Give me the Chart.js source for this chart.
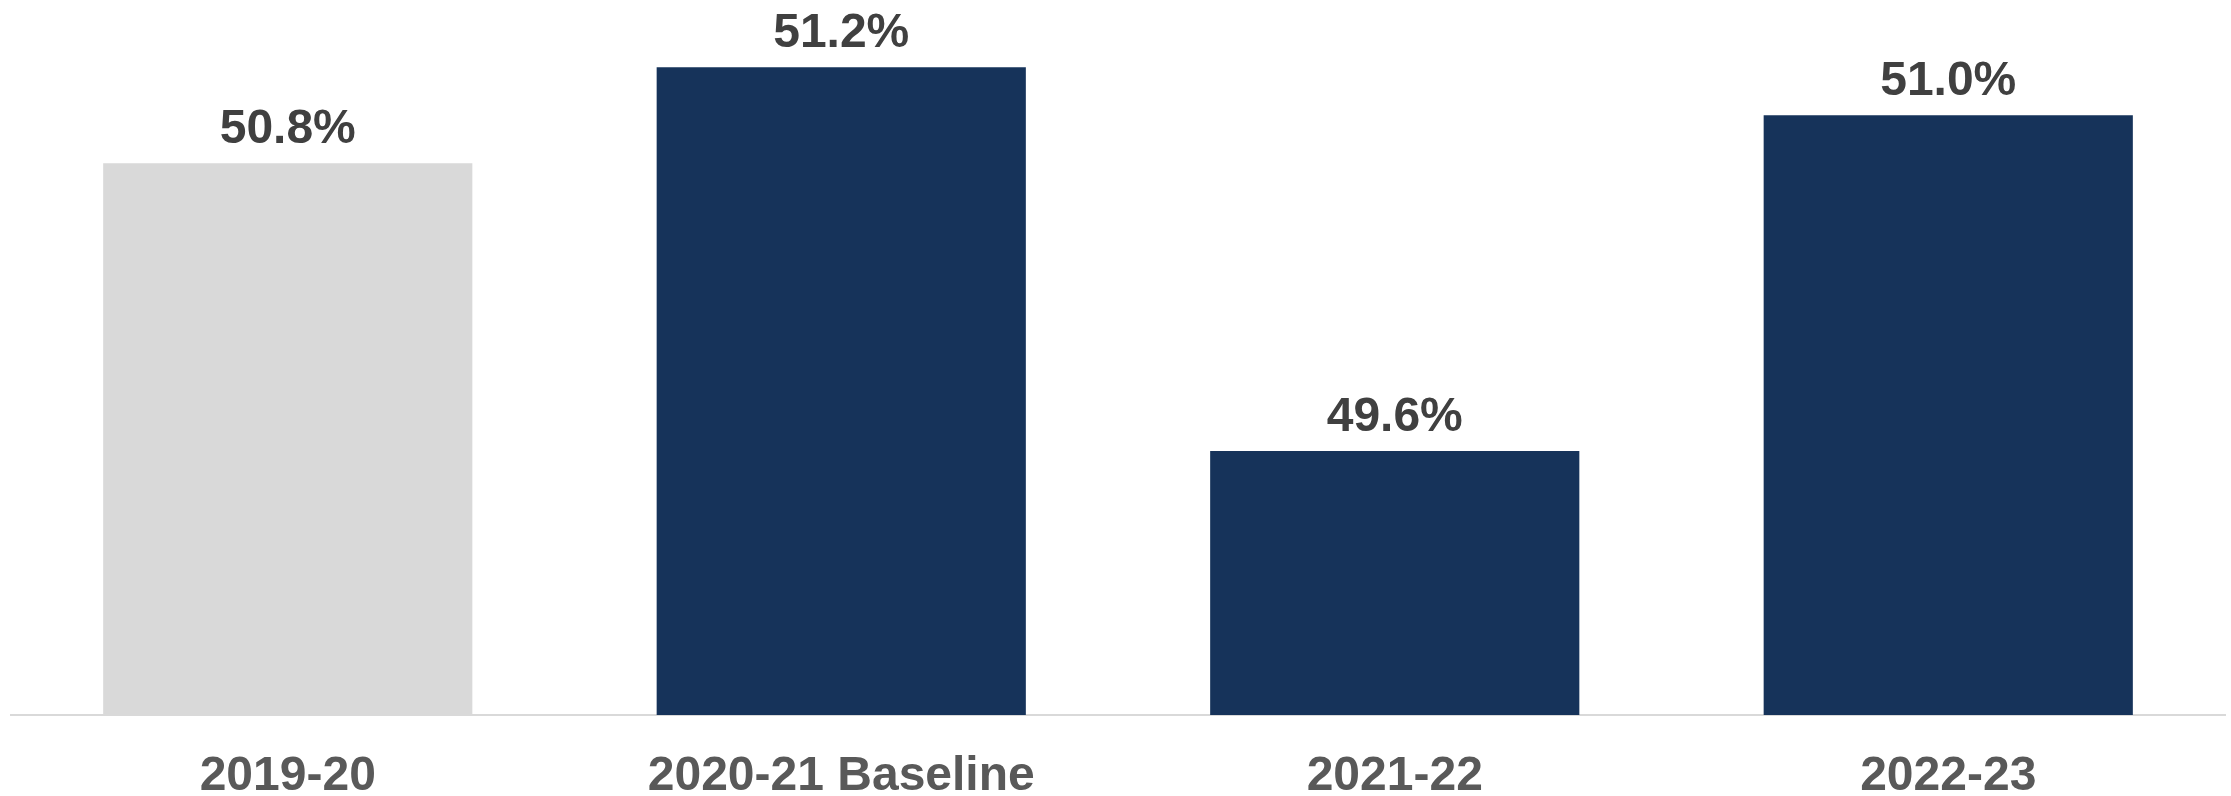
<!DOCTYPE html>
<html>
<head>
<meta charset="utf-8">
<script src="https://cdn.jsdelivr.net/npm/chart.js@4"></script>
<style>
  html, body { margin: 0; padding: 0; background: #fff; }
  #wrap { width: 2231px; height: 796px; }
</style>
</head>
<body>
<div id="wrap"><canvas id="chart"></canvas></div>
<script>
// Chart data
const categories = ['2019-20', '2020-21 Baseline', '2021-22', '2022-23'];
const shareValues = [50.8, 51.2, 49.6, 51.0];
const barColors = ['#d9d9d9', '#16335a', '#16335a', '#16335a'];

const FONT = "'Liberation Sans', Arial, sans-serif";

// draws the percent label above each bar
const valueLabels = {
  id: 'valueLabels',
  afterDatasetsDraw(chart) {
    const ctx = chart.ctx;
    const meta = chart.getDatasetMeta(0);
    ctx.save();
    ctx.font = `bold 48px ${FONT}`;
    ctx.fillStyle = '#404040';
    ctx.textAlign = 'center';
    ctx.textBaseline = 'alphabetic';
    meta.data.forEach((bar, i) => {
      ctx.fillText(shareValues[i].toFixed(1) + '%', bar.x, bar.y - 20);
    });
    ctx.restore();
  },
};

new Chart(document.getElementById('chart'), {
  type: 'bar',
  data: {
    labels: categories,
    datasets: [{
      data: shareValues,
      backgroundColor: barColors,
      borderWidth: 0,
      categoryPercentage: 1,
      barPercentage: 0.667,
    }],
  },
  options: {
    responsive: true,
    maintainAspectRatio: false,
    animation: false,
    layout: { padding: { left: 11, right: 6, top: 0, bottom: 0 } },
    plugins: {
      legend: { display: false },
      tooltip: { enabled: false },
    },
    scales: {
      x: {
        grid: { display: false, drawTicks: false },
        border: { display: true, color: '#d9d9d9', width: 2 },
        ticks: {
          color: '#595959',
          padding: 38,
          font: { family: FONT, size: 48, weight: 'bold', lineHeight: 1.0 },
          maxRotation: 0,
          autoSkip: false,
        },
        // keep the plot bottom where the reference has its baseline
        afterFit: (scale) => { scale.height = 81; },
      },
      y: {
        display: false,
        min: 48.5,
        max: 51.48,
      },
    },
  },
  plugins: [valueLabels],
});
</script>
</body>
</html>
